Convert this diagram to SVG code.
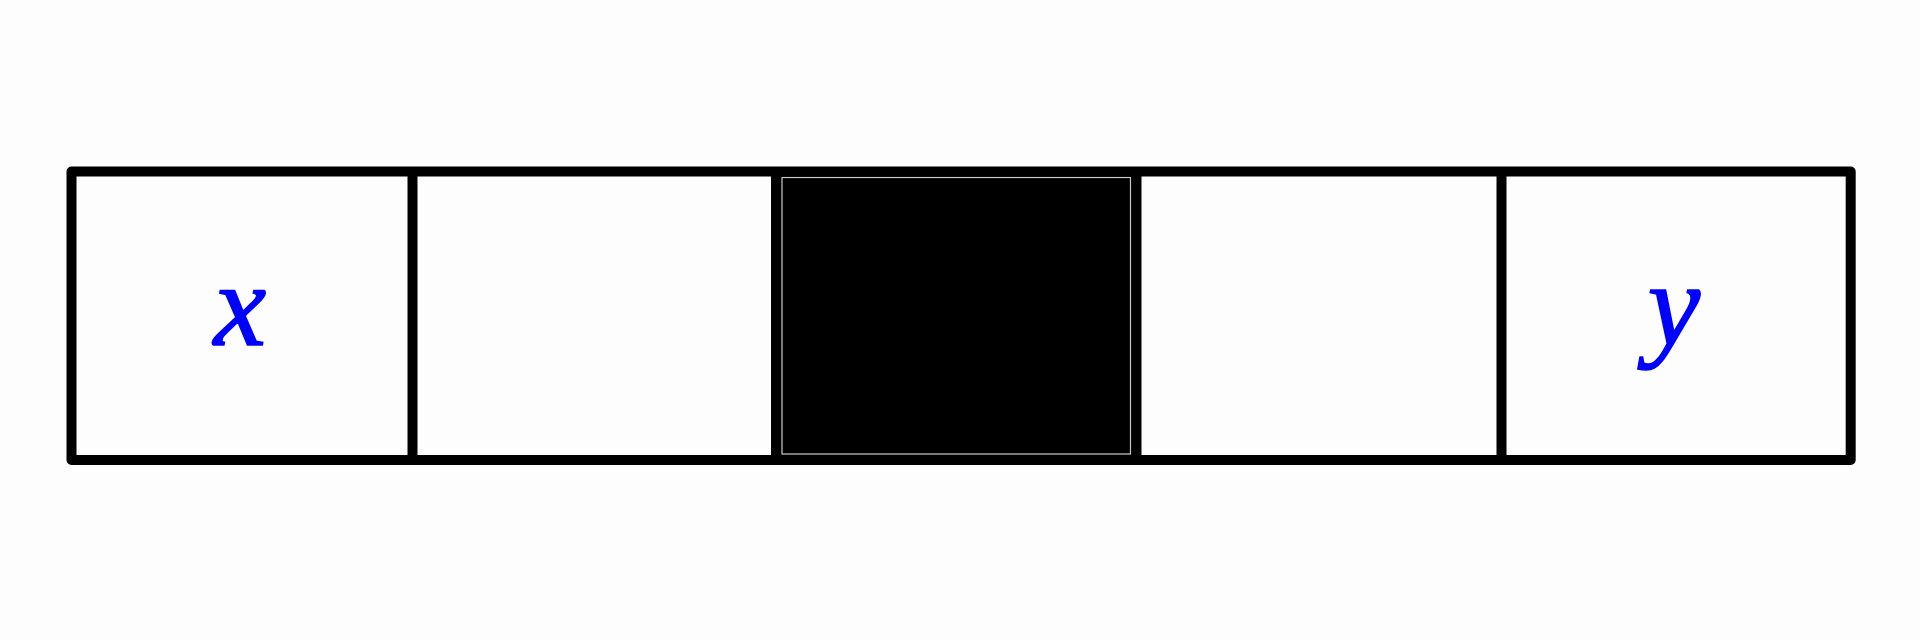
<svg xmlns="http://www.w3.org/2000/svg" width="1920" height="640" viewBox="0 0 1920 640">
<style>
.cell{fill:#fdfdfd;stroke:none}
.grid{fill:none;stroke:#000;stroke-width:10;stroke-linejoin:round}
.div{stroke:#000;stroke-width:10;stroke-linecap:butt}
.lbl{font-family:"Liberation Serif","DejaVu Serif",serif;font-style:italic;font-size:118px;fill:#0000ff;stroke:#0000ff;stroke-width:1.6;text-anchor:middle}
</style>
<rect x="0" y="0" width="1920" height="640" fill="#fdfdfd"/>
<g id="cell1"><rect class="cell" x="71.5" y="171.5" width="341" height="288.5"/><text class="lbl" x="240" y="345">x</text></g>
<g id="cell2"><rect class="cell" x="412.5" y="171.5" width="363.5" height="288.5"/></g>
<g id="cell3"><rect x="776" y="171.5" width="360.5" height="288.5" fill="#000"/><rect x="782" y="177.5" width="348.5" height="276.5" fill="#000" stroke="#cccccc" stroke-width="1.2"/></g>
<g id="cell4"><rect class="cell" x="1136.5" y="171.5" width="365" height="288.5"/></g>
<g id="cell5"><rect class="cell" x="1501.5" y="171.5" width="349.2" height="288.5"/><text class="lbl" x="1674" y="345">y</text></g>
<g id="grid">
<rect class="grid" x="71.5" y="171.5" width="1779.2" height="288.5"/>
<line class="div" x1="412.5" y1="171.5" x2="412.5" y2="460"/>
<line class="div" x1="776" y1="171.5" x2="776" y2="460"/>
<line class="div" x1="1136.5" y1="171.5" x2="1136.5" y2="460"/>
<line class="div" x1="1501.5" y1="171.5" x2="1501.5" y2="460"/>
</g>
<g id="connectors"></g>
</svg>
